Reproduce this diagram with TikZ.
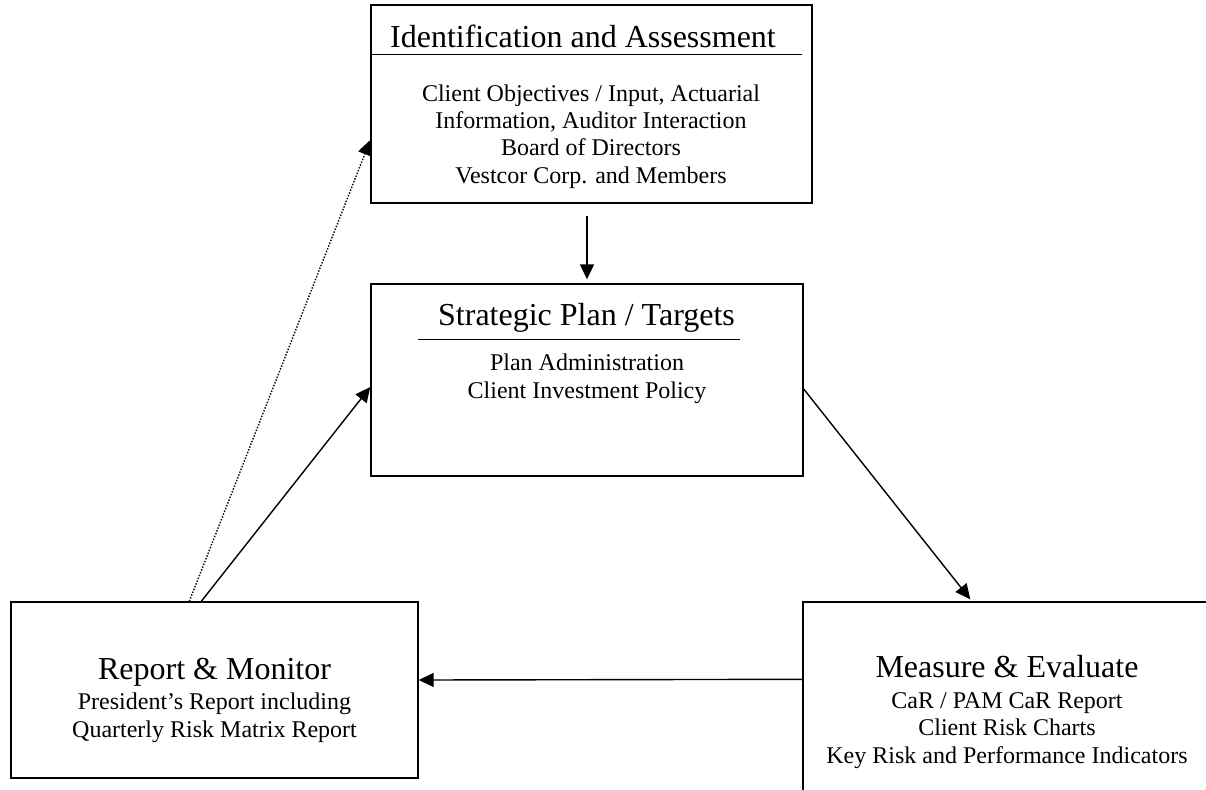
\documentclass[tikz,border=0pt]{standalone}
\usepackage{fontspec}
\setmainfont{Liberation Serif}
\usetikzlibrary{arrows.meta,calc}
\begin{document}
\begin{tikzpicture}[x=0.5pt,y=-0.5pt,
  box/.style={draw, line width=0.7pt, inner sep=0pt, rectangle},
  head/.style={font=\fontsize{16}{19}\selectfont, inner sep=0pt, anchor=base},
  body/.style={font=\fontsize{12}{13.6}\selectfont, align=center, inner sep=0pt, anchor=base},
  arr/.style={-{Triangle[length=7.5pt,width=7pt]}, line width=0.7pt},
  dots/.style={line width=0.7pt, dash pattern=on 0.7pt off 0.8pt},
  rulel/.style={line width=0.6pt}]
\useasboundingbox (0,0) rectangle (1206,789);
\clip (0,0) rectangle (1206,789);
% boxes
\node[box, minimum width=220.5pt, minimum height=99pt] (ia) at (591.5,104) {};
\node[box, minimum width=216pt, minimum height=96pt] (mid) at (587,380) {};
\node[box, minimum width=203.5pt, minimum height=88pt] (bl) at (214.5,690) {};
\node[box, minimum width=210pt, minimum height=100pt] (br) at (1013,702) {};
% texts
\node[head] (iah) at (583,47) {Identification and Assessment};
\draw[rulel] ($(ia.north west)+(0,50)$) -- ++(432,0);
\node[body] (iab) at (591,183) {Client Objectives / Input, Actuarial\\Information, Auditor Interaction\\Board of Directors\\Vestcor Corp. and Members};
\node[head] (midh) at (586.5,325) {Strategic Plan / Targets};
\draw[rulel] ($(mid.north west)+(48,56)$) -- ++(322,0);
\node[body] (midb) at (587,398) {Plan Administration\\Client Investment Policy};
\node[head] (blh) at (214.5,679) {Report \& Monitor};
\node[body] (blb) at (214.5,737) {President's Report including\\Quarterly Risk Matrix Report};
\node[head] (brh) at (1007,677) {Measure \& Evaluate};
\node[body] (brb) at (1007,763) {CaR / PAM CaR Report\\Client Risk Charts\\Key Risk and Performance Indicators};
% connectors
\draw[arr] ($(ia.south)+(-4.5,12)$) -- ($(mid.north)+(0,-4)$);
\draw[arr] ($(mid.east)+(0,9)$) -- ($(br.north west)+(168,-2)$);
\draw[arr] ($(br.north west)+(0,78)$) -- ($(bl.east)+(0,-10)$);
\draw[arr] ($(bl.north west)+(191,0)$) -- ($(mid.west)+(0,7)$);
\draw[arr, dots] ($(bl.north west)+(179,0)$) -- ($(ia.west)+(0,36)$);
\end{tikzpicture}
\end{document}
